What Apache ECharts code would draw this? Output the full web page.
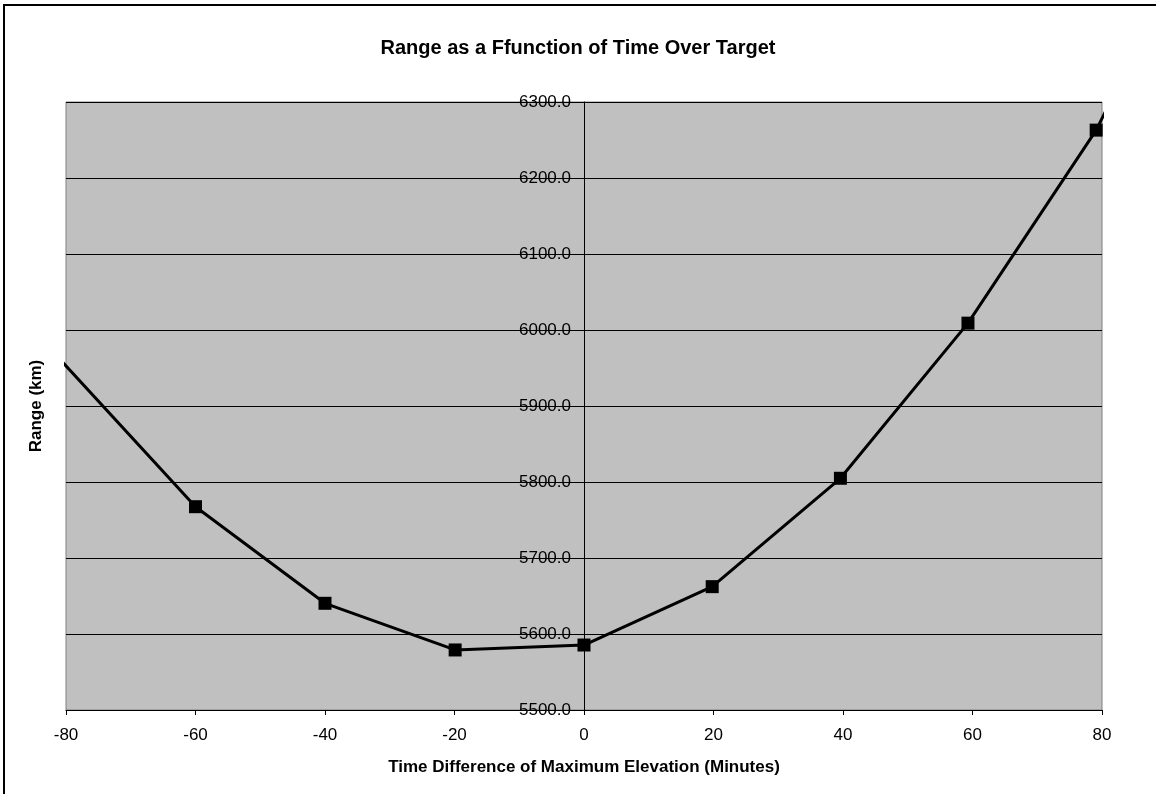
<!DOCTYPE html>
<html>
<head>
<meta charset="utf-8">
<script src="https://cdn.jsdelivr.net/npm/echarts@6/dist/echarts.min.js"></script>
<style>
html,body{margin:0;padding:0;background:#fff;}
#chart{width:1156px;height:794px;}
</style>
</head>
<body>
<div id="chart"></div>
<script>
// Data (points beyond the axis range are clipped)
const timeMinutes = [-100, -60, -40, -19.9, 0, 19.8, 39.6, 59.3, 79.1, 98.6];
const rangeKm     = [6138, 5767.5, 5640.4, 5579, 5585.5, 5662.3, 5804.9, 6009, 6263, 6597];
const xTicks = { min: -80, max: 80, interval: 20 };
const yTicks = { min: 5500, max: 6300, interval: 100 };
const titleText = 'Range as a Ffunction of Time Over Target';
const xTitle = 'Time Difference of Maximum Elevation (Minutes)';
const yTitle = 'Range (km)';

const FONT = '"Liberation Sans", Arial, sans-serif';
const GRID = {left: 66, right: 54, top: 102, bottom: 84};
const PLOT_W = 1156 - GRID.left - GRID.right;
// y axis sits at x = 0 of the x scale
const yAxisOffset = -PLOT_W * (0 - xTicks.min) / (xTicks.max - xTicks.min);

const chart = echarts.init(document.getElementById('chart'), null, {renderer: 'canvas'});
const seriesData = timeMinutes.map((t, i) => [t, rangeKm[i]]);

chart.setOption({
  animation: false,
  backgroundColor: '#ffffff',
  title: {
    text: titleText,
    left: 'center',
    top: 33,
    textStyle: {fontFamily: FONT, fontSize: 20, fontWeight: 'bold', color: '#000'}
  },
  grid: {
    left: GRID.left, right: GRID.right, top: GRID.top, bottom: GRID.bottom,
    show: true,
    backgroundColor: '#c0c0c0',
    borderColor: '#808080',
    borderWidth: 1
  },
  xAxis: {
    type: 'value',
    min: xTicks.min, max: xTicks.max, interval: xTicks.interval,
    name: xTitle,
    nameLocation: 'middle',
    nameGap: 49,
    nameTextStyle: {fontFamily: FONT, fontSize: 17, fontWeight: 'bold', color: '#000'},
    axisLine: {onZero: false, lineStyle: {color: '#000', width: 1}},
    axisTick: {show: true, length: 5, lineStyle: {color: '#000'}},
    axisLabel: {fontFamily: FONT, fontSize: 17, color: '#000', margin: 17},
    splitLine: {show: false}
  },
  yAxis: {
    type: 'value',
    position: 'left',
    offset: yAxisOffset,
    min: yTicks.min, max: yTicks.max, interval: yTicks.interval,
    axisLine: {show: true, onZero: false, lineStyle: {color: '#000', width: 1}},
    axisTick: {show: true, length: 5, lineStyle: {color: '#000'}},
    axisLabel: {
      fontFamily: FONT, fontSize: 17, color: '#000', margin: 13,
      formatter: v => v.toFixed(1)
    },
    splitLine: {show: true, lineStyle: {color: '#000', width: 1}}
  },
  graphic: [
    {
      type: 'rect',
      shape: {x: 4, y: 5, width: 1300, height: 900},
      style: {fill: 'none', stroke: '#000', lineWidth: 2},
      silent: true
    },
    {
      type: 'text',
      x: 36, y: 406,
      rotation: Math.PI / 2,
      style: {
        text: yTitle,
        fontFamily: FONT, fontSize: 17, fontWeight: 'bold', fill: '#000',
        align: 'center', verticalAlign: 'middle'
      },
      silent: true
    }
  ],
  series: [{
    type: 'line',
    data: seriesData,
    clip: true,
    symbol: 'rect',
    symbolSize: 13,
    lineStyle: {color: '#000', width: 3},
    itemStyle: {color: '#000'},
    z: 5
  }]
});
</script>
</body>
</html>
